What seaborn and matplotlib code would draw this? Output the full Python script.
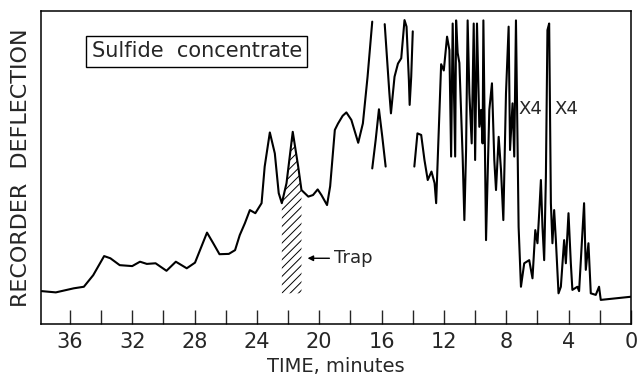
import numpy as np
import pandas as pd
import matplotlib
matplotlib.use("Agg")
import matplotlib.pyplot as plt
import seaborn as sns

# ---- data (time in minutes, recorder deflection in % of full scale) ----
seg_a_time = [37.8, 36.9, 35.75, 35.1, 34.5, 33.8, 33.4, 32.8, 32.0, 31.5, 31.06, 30.5,
              29.8, 29.2, 28.5, 27.97, 27.2, 26.8, 26.4, 25.8, 25.4, 25.1, 24.77, 24.45,
              24.1, 23.7, 23.5, 23.17, 22.85, 22.6, 22.4, 22.1, 21.7, 21.35, 21.14, 20.7,
              20.4, 20.1, 19.86, 19.5, 19.3, 19.0, 18.8, 18.5, 18.26, 17.94, 17.5, 17.2,
              16.9, 16.6]
seg_a_defl = [10.5, 10.1, 11.4, 11.9, 15.6, 21.7, 21.0, 18.8, 18.5, 19.9, 19.2, 19.4,
              17.0, 19.9, 17.8, 19.6, 29.2, 25.8, 22.3, 22.4, 23.6, 28.4, 32.2, 36.4,
              35.4, 38.6, 50.3, 61.2, 54.5, 41.8, 38.6, 45.0, 61.4, 50.3, 42.8, 40.7,
              41.2, 43.0, 41.2, 38.0, 44.0, 62.0, 64.0, 66.5, 67.6, 65.2, 57.9, 64.1,
              79.0, 96.6]

seg_b_time = [16.6, 16.38, 16.17, 15.96, 15.74]
seg_b_defl = [49.7, 58.8, 68.6, 60.0, 50.3]

seg_c_time = [15.8, 15.5, 15.4, 15.17, 14.95, 14.74, 14.53, 14.4, 14.25, 14.2, 14.1, 14.0]
seg_c_defl = [95.8, 73.7, 67.3, 79.0, 83.2, 84.9, 97.1, 95.0, 78.0, 70.0, 79.0, 93.5]

seg_d_time = [13.9, 13.7, 13.46, 13.25, 13.04, 12.8, 12.6, 12.5, 12.18, 12.01, 11.8,
              11.65, 11.54, 11.44, 11.28, 11.22, 11.12, 11.01, 10.8, 10.69, 10.58, 10.48,
              10.37, 10.22, 10.09, 10.0, 9.88, 9.73, 9.62, 9.52, 9.47, 9.3, 9.09, 8.92,
              8.77, 8.66, 8.49, 8.34, 8.19, 8.02, 7.85, 7.76, 7.6, 7.49, 7.38, 7.21, 7.06,
              6.85, 6.53, 6.32, 6.14, 6.0, 5.89, 5.78, 5.68, 5.57, 5.46, 5.36, 5.25, 5.14,
              5.04, 4.93, 4.82, 4.65, 4.5, 4.29, 4.18, 4.01, 3.86, 3.76, 3.44, 3.33, 3.01,
              2.9, 2.73, 2.58, 2.26, 2.05, 1.94, 0.02]
seg_d_defl = [50.3, 60.9, 60.4, 52.4, 46.0, 48.7, 45.0, 38.6, 83.0, 81.0, 91.8,
              87.5, 53.5, 96.0, 53.5, 97.0, 86.6, 83.4, 53.5, 33.2, 55.6, 97.0,
              73.8, 57.7, 96.0, 52.4, 96.0, 63.0, 68.4, 57.7, 97.0, 26.8, 68.4, 76.9,
              52.4, 42.8, 59.8, 49.2, 33.2, 73.7, 95.0, 55.6, 70.5, 53.5, 97.0, 31.0, 11.9,
              19.4, 20.4, 14.6, 30.0, 25.8, 35.4, 46.0, 31.1, 20.4, 47.0, 93.9, 96.0, 38.6,
              25.8, 36.4, 26.8, 9.8, 11.9, 26.8, 19.4, 35.4, 19.4, 10.9, 11.9, 10.5, 38.6,
              17.3, 25.8, 9.8, 9.3, 11.9, 7.7, 8.7]

trap_start, trap_end, trap_floor = 22.4, 21.14, 9.8
x_ticks = [36, 32, 28, 24, 20, 16, 12, 8, 4, 0]
x_tick_labels = ["36", "32", "28", "24", "20", "16", "12", "8", "4", "0"]
x_minor = [34, 30, 26, 22, 18, 14, 10, 6, 2]

# ---- style ----
sns.set_style("ticks")
plt.rcParams["font.family"] = ["DejaVu Sans"]
plt.rcParams["hatch.linewidth"] = 0.7

frames = []
for name, t, d in [("a", seg_a_time, seg_a_defl), ("b", seg_b_time, seg_b_defl),
                   ("c", seg_c_time, seg_c_defl), ("d", seg_d_time, seg_d_defl)]:
    frames.append(pd.DataFrame({"time": t, "defl": d, "seg": name}))
df = pd.concat(frames, ignore_index=True)

fig = plt.figure(figsize=(6.37, 3.79), dpi=100)
ax = fig.add_axes([41 / 637, 55 / 379, 590 / 637, 313 / 379])

sns.lineplot(data=df, x="time", y="defl", units="seg", estimator=None, sort=False,
             color="black", lw=1.5, ax=ax, legend=False)

# hatched trap region
ta = np.array(seg_a_time)
da = np.array(seg_a_defl)
m = (ta <= trap_start) & (ta >= trap_end)
ax.fill_between(ta[m], trap_floor, da[m], hatch="////", facecolor="none",
                edgecolor="black", linewidth=0)

ax.annotate("Trap", xy=(20.75, 21.0), xytext=(19.05, 21.0), ha="left", va="center",
            fontsize=13,
            arrowprops=dict(arrowstyle="-|>", color="black", lw=1, shrinkA=1, shrinkB=0,
                            mutation_scale=8))

ax.text(6.46, 68.7, "X4", ha="center", va="center", fontsize=13)
ax.text(4.16, 68.7, "X4", ha="center", va="center", fontsize=13)

ax.text(0.264, 0.871, "Sulfide  concentrate", transform=ax.transAxes, ha="center",
        va="center", fontsize=15,
        bbox=dict(boxstyle="square,pad=0.25", facecolor="white", edgecolor="black", lw=1))

ax.set_xlim(37.85, 0)
ax.set_ylim(0, 100)
ax.set_xticks(x_ticks)
ax.set_xticklabels(x_tick_labels)
ax.set_xticks(x_minor, minor=True)
ax.set_yticks([])
ax.tick_params(axis="x", which="major", direction="in", length=10, width=1, pad=6,
               labelsize=15)
ax.tick_params(axis="x", which="minor", direction="in", length=10, width=1)
for s in ax.spines.values():
    s.set_visible(True)
    s.set_linewidth(1.1)
    s.set_color("black")

ax.set_xlabel("TIME, minutes", fontsize=14)
ax.set_ylabel("RECORDER  DEFLECTION", fontsize=16)
ax.xaxis.set_label_coords(0.5, -0.105)
ax.yaxis.set_label_coords(-0.017, 0.5)

fig.savefig("out.png", dpi=100)
